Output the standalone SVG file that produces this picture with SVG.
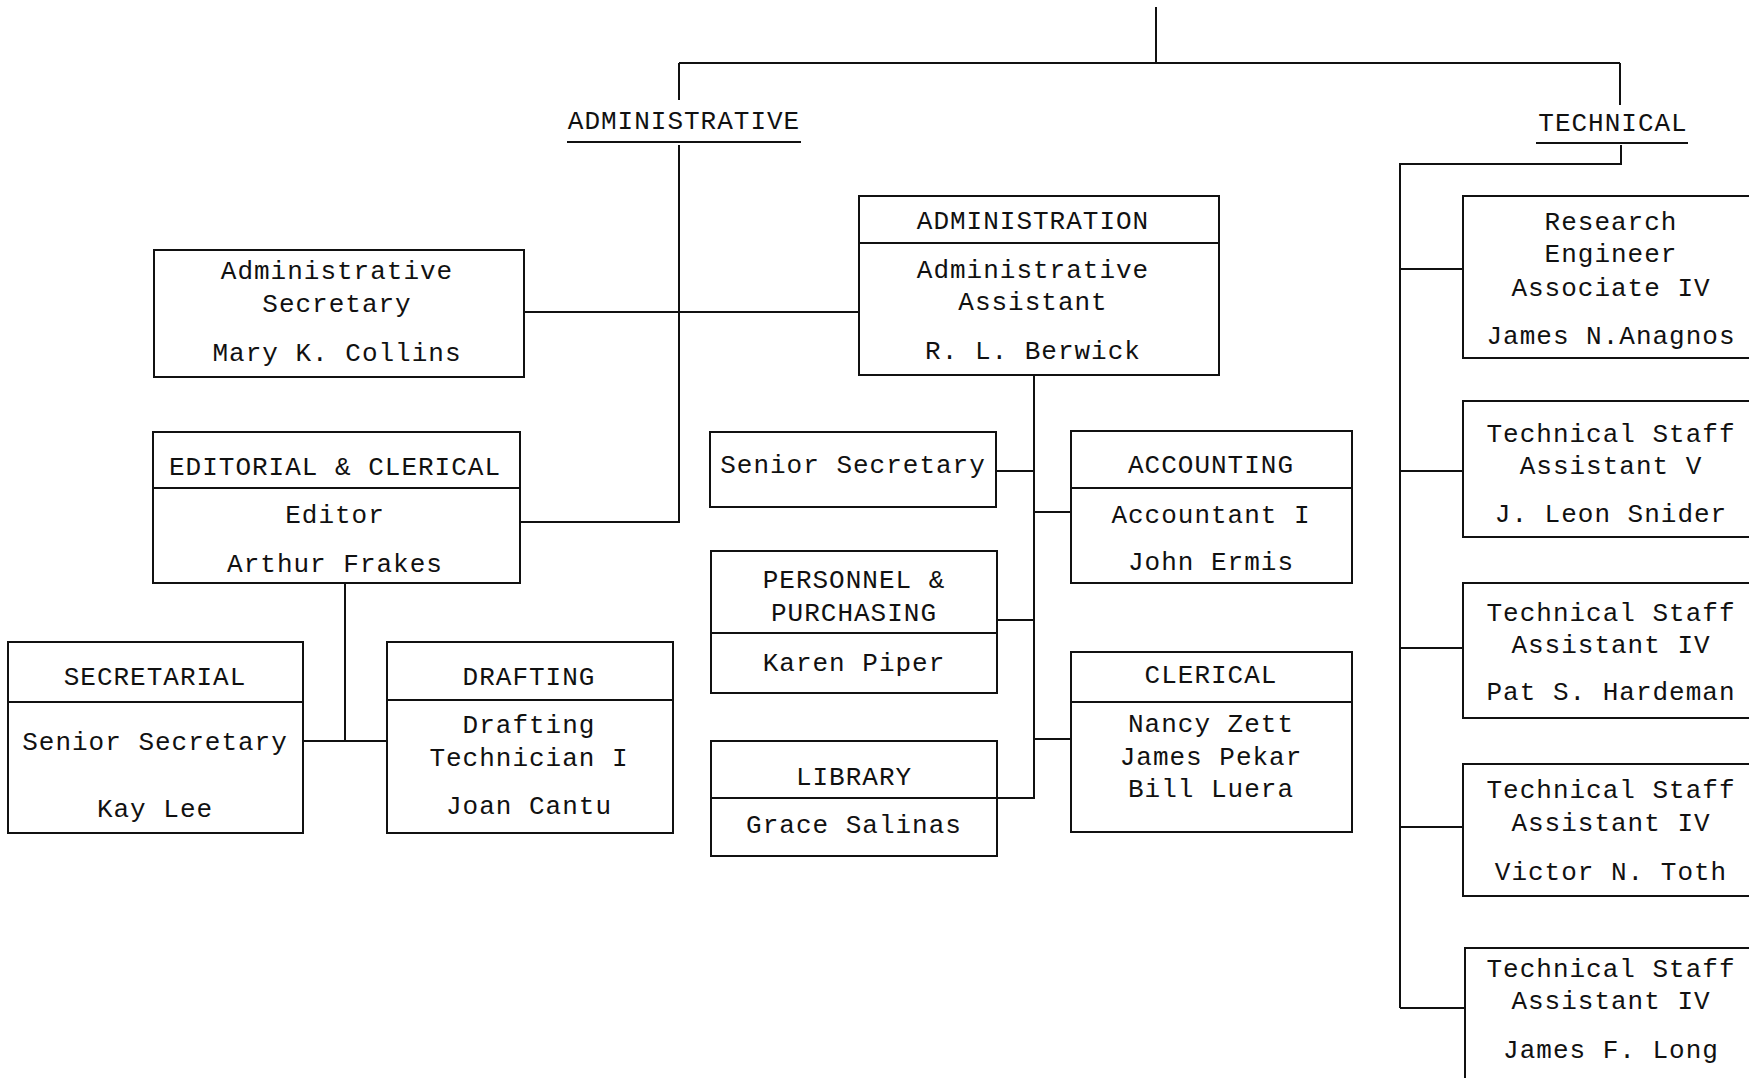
<svg xmlns="http://www.w3.org/2000/svg" width="1749" height="1078" viewBox="0 0 1749 1078">
<style>
.box{fill:#fff;stroke:#111;stroke-width:2}
.ln{stroke:#111;stroke-width:2;fill:none}
text{font-family:"Liberation Mono","DejaVu Sans Mono",monospace;font-size:26px;letter-spacing:1px;fill:#111;text-anchor:middle}
</style>
<rect width="1749" height="1078" fill="#fff"/>
<g id="connectors" class="ln">
<path d="M1156 7V63M679 63H1620M679 63V100M1620 63V105"/>
<path d="M567 142H801M1536 143H1688"/>
<path d="M679 145V522H520M524 312H859"/>
<path d="M1621 145V164H1400V1008"/>
<path d="M1400 269H1463M1400 471H1463M1400 648H1463M1400 827H1463M1400 1008H1465"/>
<path d="M345 583V741M303 741H387"/>
<path d="M1034 375V798H997M996 471H1034M997 620H1034M1034 512H1071M1034 739H1071"/>
</g>
<g id="administrative">
<text x="684" y="129">ADMINISTRATIVE</text>
</g>
<g id="technical">
<text x="1613" y="131">TECHNICAL</text>
</g>
<g id="admin-secretary">
<rect class="box" x="154" y="250" width="370" height="127"/>
<text x="337" y="279">Administrative</text>
<text x="337" y="312">Secretary</text>
<text x="337" y="361">Mary K. Collins</text>
</g>
<g id="administration">
<rect class="box" x="859" y="196" width="360" height="179"/>
<path class="ln" d="M859 243H1219"/>
<text x="1033" y="229">ADMINISTRATION</text>
<text x="1033" y="278">Administrative</text>
<text x="1033" y="310">Assistant</text>
<text x="1033" y="359">R. L. Berwick</text>
</g>
<g id="editorial">
<rect class="box" x="153" y="432" width="367" height="151"/>
<path class="ln" d="M153 488H520"/>
<text x="335" y="475">EDITORIAL &amp; CLERICAL</text>
<text x="335" y="523">Editor</text>
<text x="335" y="572">Arthur Frakes</text>
</g>
<g id="secretarial">
<rect class="box" x="8" y="642" width="295" height="191"/>
<path class="ln" d="M8 702H303"/>
<text x="155" y="685">SECRETARIAL</text>
<text x="155" y="750">Senior Secretary</text>
<text x="155" y="817">Kay Lee</text>
</g>
<g id="drafting">
<rect class="box" x="387" y="642" width="286" height="191"/>
<path class="ln" d="M387 700H673"/>
<text x="529" y="685">DRAFTING</text>
<text x="529" y="733">Drafting</text>
<text x="529" y="766">Technician I</text>
<text x="529" y="814">Joan Cantu</text>
</g>
<g id="senior-secretary">
<rect class="box" x="710" y="432" width="286" height="75"/>
<text x="853" y="473">Senior Secretary</text>
</g>
<g id="personnel">
<rect class="box" x="711" y="551" width="286" height="142"/>
<path class="ln" d="M711 633H997"/>
<text x="854" y="588">PERSONNEL &amp;</text>
<text x="854" y="621">PURCHASING</text>
<text x="854" y="671">Karen Piper</text>
</g>
<g id="library">
<rect class="box" x="711" y="741" width="286" height="115"/>
<path class="ln" d="M711 798H997"/>
<text x="854" y="785">LIBRARY</text>
<text x="854" y="833">Grace Salinas</text>
</g>
<g id="accounting">
<rect class="box" x="1071" y="431" width="281" height="152"/>
<path class="ln" d="M1071 488H1352"/>
<text x="1211" y="473">ACCOUNTING</text>
<text x="1211" y="523">Accountant I</text>
<text x="1211" y="570">John Ermis</text>
</g>
<g id="clerical">
<rect class="box" x="1071" y="652" width="281" height="180"/>
<path class="ln" d="M1071 702H1352"/>
<text x="1211" y="683">CLERICAL</text>
<text x="1211" y="732">Nancy Zett</text>
<text x="1211" y="765">James Pekar</text>
<text x="1211" y="797">Bill Luera</text>
</g>
<g id="research-engineer">
<rect class="box" x="1463" y="196" width="300" height="162"/>
<text x="1611" y="230">Research</text>
<text x="1611" y="262">Engineer</text>
<text x="1611" y="296">Associate IV</text>
<text x="1611" y="344">James N.Anagnos</text>
</g>
<g id="tsa-snider">
<rect class="box" x="1463" y="401" width="300" height="136"/>
<text x="1611" y="442">Technical Staff</text>
<text x="1611" y="474">Assistant V</text>
<text x="1611" y="522">J. Leon Snider</text>
</g>
<g id="tsa-hardeman">
<rect class="box" x="1463" y="583" width="300" height="135"/>
<text x="1611" y="621">Technical Staff</text>
<text x="1611" y="653">Assistant IV</text>
<text x="1611" y="700">Pat S. Hardeman</text>
</g>
<g id="tsa-toth">
<rect class="box" x="1463" y="764" width="300" height="132"/>
<text x="1611" y="798">Technical Staff</text>
<text x="1611" y="831">Assistant IV</text>
<text x="1611" y="880">Victor N. Toth</text>
</g>
<g id="tsa-long">
<rect class="box" x="1465" y="948" width="300" height="140"/>
<text x="1611" y="977">Technical Staff</text>
<text x="1611" y="1009">Assistant IV</text>
<text x="1611" y="1058">James F. Long</text>
</g>
</svg>
